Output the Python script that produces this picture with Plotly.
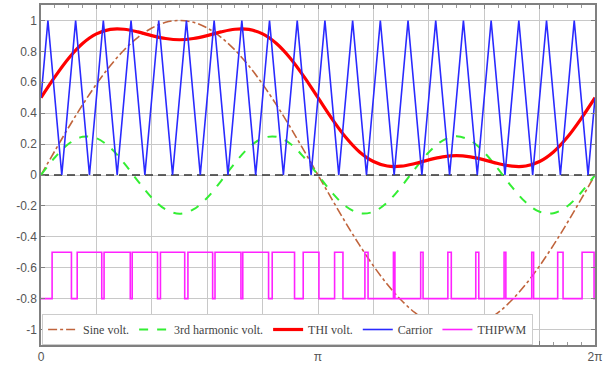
import plotly.graph_objects as go

# x in units of pi (0 .. 2), sampled every 0.05*pi
x_pi = [round(0.05 * i, 2) for i in range(41)]

sine_volt = [0, .156, .309, .454, .588, .707, .809, .891, .951, .988, 1,
             .988, .951, .891, .809, .707, .588, .454, .309, .156, 0,
             -.156, -.309, -.454, -.588, -.707, -.809, -.891, -.951, -.988, -1,
             -.988, -.951, -.891, -.809, -.707, -.588, -.454, -.309, -.156, 0]

harm3_volt = [0, .113, .202, .247, .238, .177, .077, -.039, -.147, -.223, -.25,
              -.223, -.147, -.039, .077, .177, .238, .247, .202, .113, 0,
              -.113, -.202, -.247, -.238, -.177, -.077, .039, .147, .223, .25,
              .223, .147, .039, -.077, -.177, -.238, -.247, -.202, -.113, 0]

thi_volt = [.5, .635, .756, .851, .913, .942, .943, .926, .902, .883, .875,
            .883, .902, .926, .943, .942, .913, .851, .756, .635, .5,
            .365, .244, .149, .087, .058, .057, .074, .098, .117, .125,
            .117, .098, .074, .057, .058, .087, .149, .244, .365, .5]

carrier_x = [0, .025, .075, .125, .175, .225, .275, .325, .375, .425, .475,
             .525, .575, .625, .675, .725, .775, .825, .875, .925, .975,
             1.025, 1.075, 1.125, 1.175, 1.225, 1.275, 1.325, 1.375, 1.425, 1.475,
             1.525, 1.575, 1.625, 1.675, 1.725, 1.775, 1.825, 1.875, 1.925, 1.975, 2]
carrier_y = [.5] + [1, 0] * 20 + [.5]

pwm_rise = [.0401, .1307, .2277, .3293, .4312, .5304, .6282, .7284, .8347, .9466,
            1.0599, 1.1693, 1.2723, 1.3707, 1.4688, 1.5696, 1.6718, 1.7716, 1.8653, 1.9534]
pwm_fall = [.1099, .2193, .3223, .4207, .5188, .6196, .7218, .8216, .9153, 1.0034,
            1.0901, 1.1807, 1.2777, 1.3793, 1.4812, 1.5804, 1.6782, 1.7784, 1.8847, 1.9966]
pwm_low, pwm_high = -0.8, -0.5

pwm_x = [0]
pwm_y = [pwm_low]
for r, f in zip(pwm_rise, pwm_fall):
    pwm_x += [r, f]
    pwm_y += [pwm_high, pwm_low]
pwm_x.append(2)
pwm_y.append(pwm_low)

x_grid = [round(0.2 * i, 1) for i in range(11)]
x_text = ['0', '', '', '', '', 'π', '', '', '', '', '2π']
y_ticks = [-1, -0.8, -0.6, -0.4, -0.2, 0, 0.2, 0.4, 0.6, 0.8, 1]
y_text = ['-1', '-0.8', '-0.6', '-0.4', '-0.2', '0', '0.2', '0.4', '0.6', '0.8', '1']

fig = go.Figure()
fig.add_trace(go.Scatter(x=[0, 2], y=[0, 0], mode='lines', showlegend=False,
                         line=dict(color='#333333', width=1.5, dash='8px,5px')))
fig.add_trace(go.Scatter(x=x_pi, y=sine_volt, mode='lines', name='Sine volt.',
                         line=dict(color='#c0643c', width=1.6, dash='dashdot', shape='spline')))
fig.add_trace(go.Scatter(x=x_pi, y=harm3_volt, mode='lines', name='3rd harmonic volt.',
                         line=dict(color='#33ee33', width=2, dash='dash', shape='spline')))
fig.add_trace(go.Scatter(x=x_pi, y=thi_volt, mode='lines', name='THI volt.',
                         line=dict(color='#ff0000', width=3.2, shape='spline')))
fig.add_trace(go.Scatter(x=carrier_x, y=carrier_y, mode='lines', name='Carrior',
                         line=dict(color='#2a2aff', width=1.6)))
fig.add_trace(go.Scatter(x=pwm_x, y=pwm_y, mode='lines', name='THIPWM',
                         line=dict(color='#ff22ff', width=1.6, shape='hv')))

fig.update_layout(
    width=614, height=371,
    margin=dict(l=41, r=19, t=3, b=26),
    paper_bgcolor='white', plot_bgcolor='white',
    font=dict(family='Liberation Sans', size=12, color='#666666'),
    legend=dict(orientation='h', x=0.002, y=0.0, xanchor='left', yanchor='bottom',
                bgcolor='white', bordercolor='#cccccc', borderwidth=1,
                font=dict(family='Liberation Serif', size=12, color='#444444'),
                tracegroupgap=0),
)
fig.update_xaxes(range=[0, 2], tickvals=x_grid, ticktext=x_text,
                 showgrid=True, gridcolor='#c8c8c8', gridwidth=1,
                 showline=True, linecolor='#808080', linewidth=1.5, mirror='ticks',
                 ticks='inside', ticklen=4, tickcolor='#808080', zeroline=False,
                 minor=dict(dtick=0.05, ticks='inside', ticklen=3, tickcolor='#999999', showgrid=False),
                 tickfont=dict(size=12, color='#555555'))
fig.update_yaxes(range=[-1.1, 1.1], tickvals=y_ticks, ticktext=y_text,
                 showgrid=True, gridcolor='#c8c8c8', gridwidth=1,
                 showline=True, linecolor='#808080', linewidth=1.5, mirror='ticks',
                 ticks='inside', ticklen=4, tickcolor='#808080', zeroline=False,
                 tickfont=dict(size=12, color='#555555'))

fig.write_html("out.html")
